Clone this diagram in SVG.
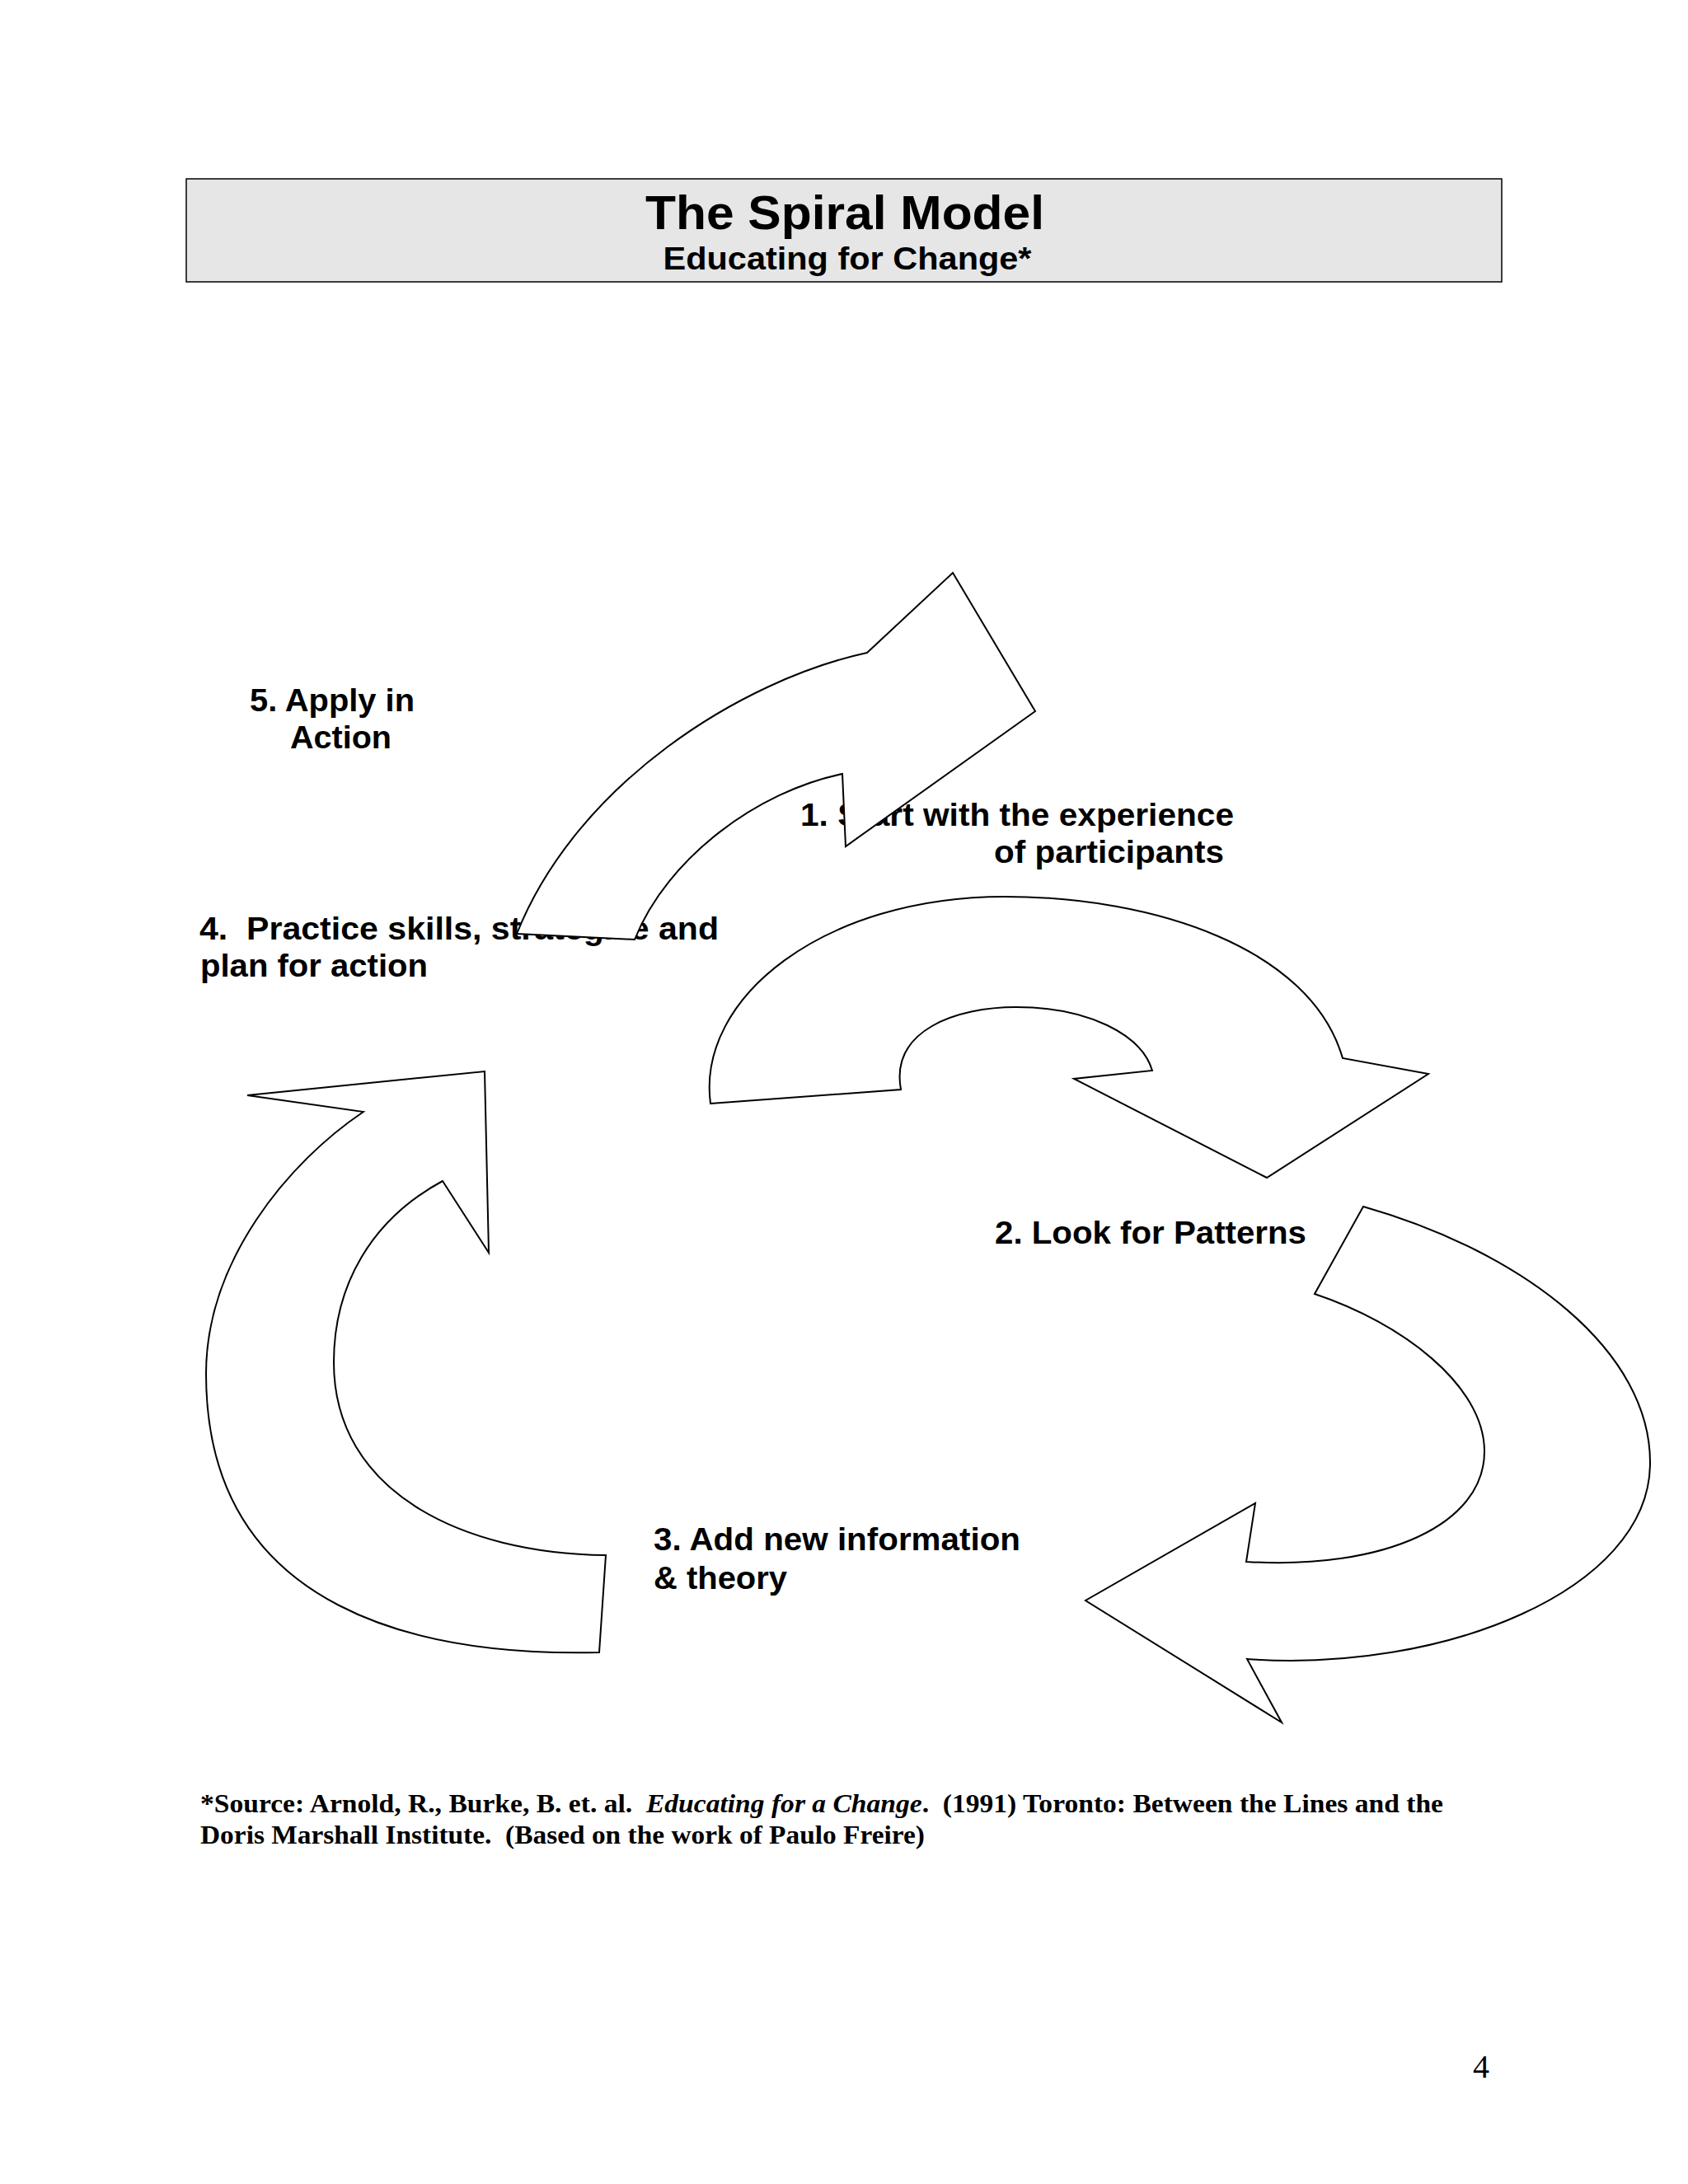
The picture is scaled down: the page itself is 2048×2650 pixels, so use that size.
<svg xmlns="http://www.w3.org/2000/svg" width="2048" height="2650" viewBox="0 0 2048 2650">
<style>
.lbl{font-family:"Liberation Sans",Arial,sans-serif;font-weight:bold;font-size:39px;fill:#000}
.arrow{fill:#fff;stroke:#000;stroke-width:2;stroke-linejoin:miter}
.foot{font-family:"Liberation Serif","Times New Roman",serif;font-weight:bold;font-size:31px;fill:#000}
</style>
<rect width="2048" height="2650" fill="#fff"/>
<g id="title">
<rect x="226" y="217" width="1596" height="125" fill="#e6e6e6" stroke="#000" stroke-width="1.5"/>
<text x="1025" y="278" text-anchor="middle" font-family="Liberation Sans, Arial, sans-serif" font-weight="bold" font-size="58" textLength="484" lengthAdjust="spacingAndGlyphs">The Spiral Model</text>
<text x="1028" y="327" text-anchor="middle" font-family="Liberation Sans, Arial, sans-serif" font-weight="bold" font-size="39" textLength="447" lengthAdjust="spacingAndGlyphs">Educating for Change*</text>
</g>
<g id="step5">
<text class="lbl" x="303" y="863" textLength="200" lengthAdjust="spacingAndGlyphs">5. Apply in</text>
<text class="lbl" x="352" y="908" textLength="123" lengthAdjust="spacingAndGlyphs">Action</text>
</g>
<g id="step4">
<text class="lbl" x="242" y="1140" textLength="630" lengthAdjust="spacingAndGlyphs" xml:space="preserve">4.  Practice skills, strategize and</text>
<text class="lbl" x="243" y="1185" textLength="276" lengthAdjust="spacingAndGlyphs">plan for action</text>
</g>
<g id="step1">
<text class="lbl" x="971" y="1002" textLength="526" lengthAdjust="spacingAndGlyphs">1. Start with the experience</text>
<text class="lbl" x="1206" y="1047" textLength="279" lengthAdjust="spacingAndGlyphs">of participants</text>
</g>
<g id="step2">
<text class="lbl" x="1207" y="1509" textLength="378" lengthAdjust="spacingAndGlyphs">2. Look for Patterns</text>
</g>
<g id="step3">
<text class="lbl" x="793" y="1881" textLength="445" lengthAdjust="spacingAndGlyphs">3. Add new information</text>
<text class="lbl" x="793" y="1928" textLength="162" lengthAdjust="spacingAndGlyphs">&amp; theory</text>
</g>
<g id="connectors">
<path id="arrow-5-1" class="arrow" d="M 1156,695 L 1256,863 L 1026,1027 L 1022,939 C 920,960 810,1040 770,1140 L 627,1133 C 700,950 900,825 1052,792 Z"/>
<path id="arrow-1-2" class="arrow" d="M 862,1339 L 1093,1322 C 1080,1250 1160,1222 1233,1222 C 1320,1222 1385,1255 1398,1299 L 1303,1309 L 1537,1429 L 1733,1303 L 1629,1284 C 1590,1150 1400,1088 1219,1088 C 1000,1088 845,1210 862,1339 Z"/>
<path id="arrow-2-3" class="arrow" d="M 1654,1464 L 1595,1570 C 1700,1605 1800,1680 1801,1760 C 1802,1850 1680,1905 1512,1895 L 1523,1824 L 1317,1942 L 1555,2090 L 1513,2013 C 1750,2030 2000,1930 2002,1777 C 2004,1640 1850,1520 1654,1464 Z"/>
<path id="arrow-3-4" class="arrow" d="M 300,1329 L 588,1300 L 593,1520 L 537,1433 C 450,1480 405,1560 405,1653 C 405,1810 560,1885 735,1887 L 727,2005 C 520,2010 250,1960 250,1667 C 250,1530 350,1410 441,1349 Z"/>
</g>
<g id="footnote">
<text class="foot" x="243" y="2199" textLength="1508" lengthAdjust="spacingAndGlyphs" xml:space="preserve">*Source: Arnold, R., Burke, B. et. al.  <tspan font-style="italic">Educating for a Change</tspan>.  (1991) Toronto: Between the Lines and the</text>
<text class="foot" x="243" y="2237" textLength="879" lengthAdjust="spacingAndGlyphs" xml:space="preserve">Doris Marshall Institute.  (Based on the work of Paulo Freire)</text>
</g>
<g id="page-number">
<text x="1797" y="2521" text-anchor="middle" font-family="Liberation Serif, Times New Roman, serif" font-size="40">4</text>
</g>
</svg>
